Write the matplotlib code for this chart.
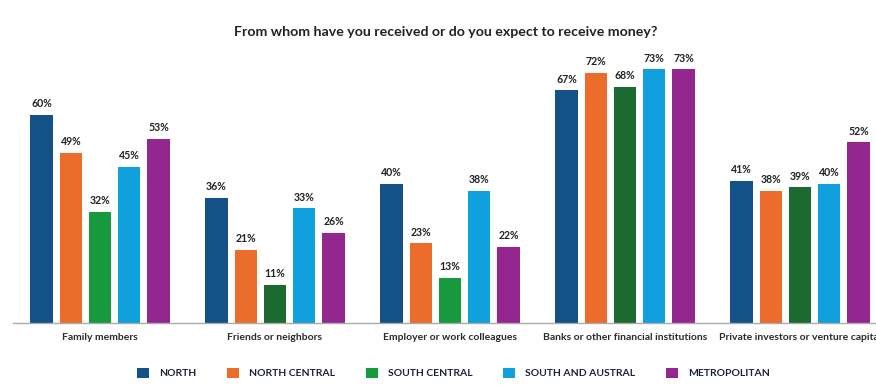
import matplotlib
matplotlib.use("Agg")
import matplotlib.pyplot as plt
from matplotlib.patches import Patch
import numpy as np

plt.rcParams['font.family'] = ['Lato', 'DejaVu Sans']

categories = ["Family members", "Friends or neighbors", "Employer or work colleagues",
              "Banks or other financial institutions", "Private investors or venture capital"]
series = ["NORTH", "NORTH CENTRAL", "SOUTH CENTRAL", "SOUTH AND AUSTRAL", "METROPOLITAN"]
north = [60, 36, 40, 67, 41]
north_central = [49, 21, 23, 72, 38]
south_central = [32, 11, 13, 68, 39]
south_austral = [45, 33, 38, 73, 40]
metropolitan = [53, 26, 22, 73, 52]
values = [north, north_central, south_central, south_austral, metropolitan]

colors = ["#135186", "#ec6d2b", "#17993d", "#10a0dd", "#93278f"]
# the south-central bars alternate between two green shades
green_shades = ["#17993d", "#1b6b30", "#17993d", "#1b6b30", "#1b6b30"]

fig = plt.figure(figsize=(8.76, 3.91), dpi=100, facecolor="white")
ax = fig.add_axes([13 / 876, 68 / 391, 1 - 13 / 876, 278 / 391])
ax.set_facecolor("white")

x = np.arange(len(categories))
step = 0.167
width = 0.127
for i, (name, vals) in enumerate(zip(series, values)):
    pos = x + (i - 2) * step
    cols = green_shades if i == 2 else colors[i]
    ax.bar(pos, vals, width=width, color=cols, label=name)
    for px, v in zip(pos, vals):
        ax.text(px, v + 1.6, f"{v}%", ha="center", va="bottom",
                fontsize=7.6, fontweight="bold", color="#222222")

ax.set_xlim(-0.497, 4.434)
ax.set_ylim(0, 80)
for s in ["top", "right", "left"]:
    ax.spines[s].set_visible(False)
ax.spines["bottom"].set_color("#aaaaaa")
ax.spines["bottom"].set_linewidth(1)
ax.set_yticks([])
ax.set_xticks(x)
ax.set_xticklabels(categories, fontsize=7.5, fontweight="bold", color="#2a2a2a")
ax.tick_params(axis="x", length=0, pad=7)

fig.text(446 / 876, 1 - 32 / 391, "From whom have you received or do you expect to receive money?",
         ha="center", va="center", fontsize=10.2, fontweight="bold", color="#222222")

handles = [Patch(facecolor=c, edgecolor="none") for c in colors]
leg = fig.legend(handles, series, loc="center", bbox_to_anchor=(453.5 / 876, 1 - 373 / 391),
                 ncol=5, frameon=False, prop={"weight": "bold", "size": 7.5},
                 handlelength=1.15, handleheight=1.15, handletextpad=0.95, columnspacing=2.95,
                 borderpad=0, borderaxespad=0)
for t in leg.get_texts():
    t.set_color("#1c2040")

fig.savefig("out.png", dpi=100, facecolor="white")
